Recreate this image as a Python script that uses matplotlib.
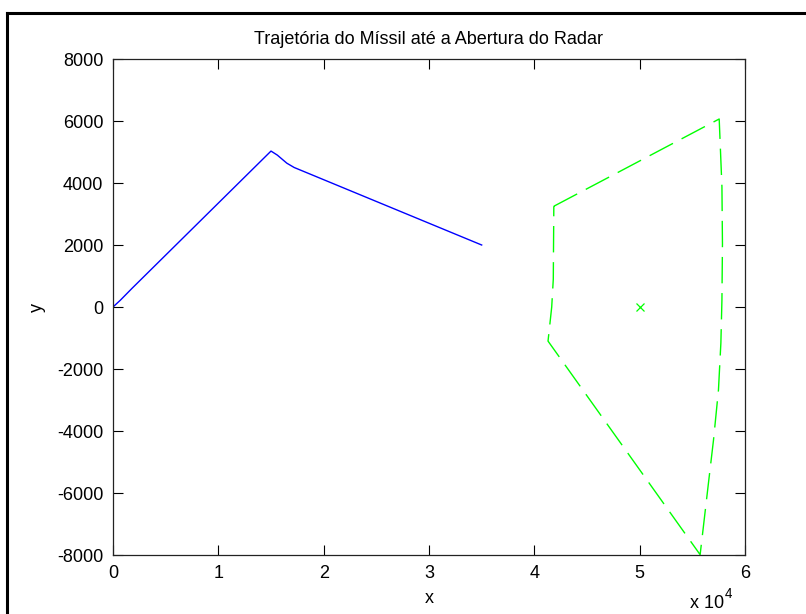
import matplotlib
matplotlib.use("Agg")
import matplotlib.pyplot as plt
from matplotlib.lines import Line2D

plt.rcParams['font.family'] = ['Liberation Sans', 'DejaVu Sans']
plt.rcParams['lines.scale_dashes'] = False

# missile trajectory (blue)
missile_x = [0, 700, 1800, 15000, 15600, 16500, 17200, 35000]
missile_y = [0, 220, 600, 5030, 4900, 4640, 4500, 2000]

# radar aperture contour (green dashed, closed)
radar_x = [41850, 57550, 57810, 57860, 57810, 57710, 57480, 57010, 56530, 55740,
           41300, 41650, 41800, 41850]
radar_y = [3250, 6065, 3880, 2030, 226, -1160, -2680, -4290, -5680, -7990,
           -1100, 0, 900, 3250]

# radar position
radar_pos_x = [50000]
radar_pos_y = [0]

xtick_vals = [0, 10000, 20000, 30000, 40000, 50000, 60000]
xtick_labels = ['0', '1', '2', '3', '4', '5', '6']
ytick_vals = [-8000, -6000, -4000, -2000, 0, 2000, 4000, 6000, 8000]

W, H = 806, 614
fig = plt.figure(figsize=(W / 100, H / 100), dpi=100)
ax = fig.add_axes([113 / W, 1 - 555 / H, 632 / W, 496 / H])

fs = 13

ax.plot(missile_x, missile_y, color='#0000ff', lw=1.0)
ax.plot(radar_x, radar_y, color='#00ff00', lw=1.0, dashes=(19, 7))
ax.plot(radar_pos_x, radar_pos_y, 'x', color='#00ff00', ms=6, mew=0.9)

ax.set_xlim(0, 60000)
ax.set_ylim(-8000, 8000)
ax.set_xticks(xtick_vals)
ax.set_xticklabels(xtick_labels)
ax.set_yticks(ytick_vals)
ax.set_yticklabels([str(v) for v in ytick_vals])
ax.tick_params(direction='in', length=7, width=0.8, top=True, right=True,
               labelsize=fs, pad=7)
for s in ax.spines.values():
    s.set_linewidth(0.9)
    s.set_color('#222222')

ax.set_title('Trajetória do Míssil até a Abertura do Radar', fontsize=fs, pad=11)
ax.set_xlabel('x', fontsize=fs, labelpad=6)
ax.set_ylabel('y', fontsize=fs, labelpad=8)

# exponent label for x axis
fig.text(690 / W, 1 - 608 / H, 'x 10', fontsize=fs, ha='left', va='baseline')
fig.text(725 / W, 1 - 598 / H, '4', fontsize=fs * 0.75, ha='left', va='baseline')

# screenshot border (top and left)
fig.add_artist(Line2D([7 / W, 7 / W], [0, 1 - 13 / H], transform=fig.transFigure,
                      color='black', lw=2.2))
fig.add_artist(Line2D([7 / W, 1], [1 - 13 / H, 1 - 13 / H], transform=fig.transFigure,
                      color='black', lw=2.2))

fig.savefig('out.png', dpi=100)
